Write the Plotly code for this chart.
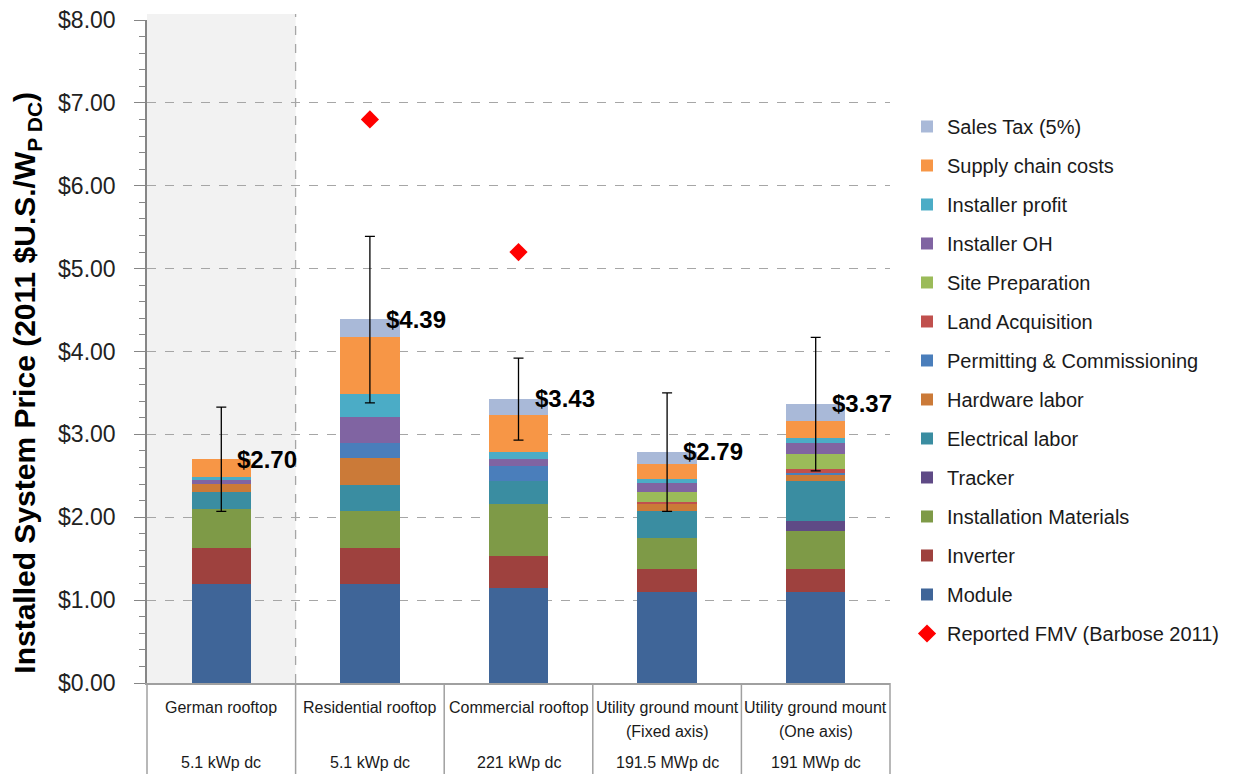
import plotly.graph_objects as go

categories = ["German rooftop", "Residential rooftop", "Commercial rooftop",
              "Utility ground mount (Fixed axis)", "Utility ground mount (One axis)"]
cat_line1 = ["German rooftop", "Residential rooftop", "Commercial rooftop",
             "Utility ground mount", "Utility ground mount"]
cat_line2 = ["", "", "", "(Fixed axis)", "(One axis)"]
capacities = ["5.1 kWp dc", "5.1 kWp dc", "221 kWp dc", "191.5 MWp dc", "191 MWp dc"]

# stacked components, bottom -> top
component_names = ["Module", "Inverter", "Installation Materials", "Tracker",
                   "Electrical labor", "Hardware labor", "Permitting & Commissioning",
                   "Land Acquisition", "Site Preparation", "Installer OH",
                   "Installer profit", "Supply chain costs", "Sales Tax (5%)"]
module = [1.20, 1.20, 1.15, 1.10, 1.10]
inverter = [0.43, 0.43, 0.38, 0.28, 0.28]
installation_materials = [0.47, 0.45, 0.63, 0.37, 0.45]
tracker = [0, 0, 0, 0, 0.13]
electrical_labor = [0.20, 0.31, 0.28, 0.33, 0.48]
hardware_labor = [0.10, 0.32, 0, 0.08, 0.08]
permitting = [0, 0.18, 0.18, 0, 0.02]
land_acquisition = [0, 0, 0, 0.03, 0.04]
site_preparation = [0, 0, 0, 0.12, 0.18]
installer_oh = [0.05, 0.32, 0.08, 0.10, 0.13]
installer_profit = [0.03, 0.28, 0.09, 0.05, 0.07]
supply_chain = [0.22, 0.68, 0.44, 0.18, 0.20]
sales_tax = [0, 0.22, 0.20, 0.15, 0.21]
component_values = [module, inverter, installation_materials, tracker, electrical_labor,
                    hardware_labor, permitting, land_acquisition, site_preparation,
                    installer_oh, installer_profit, supply_chain, sales_tax]
component_colors = ["#3F6598", "#9E413E", "#7E9A47", "#5F4A86", "#3A8DA1", "#CB7A38",
                    "#4A7EBB", "#C0504D", "#9BBB59", "#8064A2", "#4BACC6", "#F79646",
                    "#A9B9D8"]

error_low = [2.07, 3.38, 2.93, 2.07, 2.56]
error_high = [3.33, 5.39, 3.92, 3.50, 4.17]

fmv_categories = ["Residential rooftop", "Commercial rooftop"]
fmv_values = [6.80, 5.20]

totals = [round(sum(v[i] for v in component_values), 2) for i in range(len(categories))]

fig = go.Figure()
n = len(component_names)
for k, (name, vals, col) in enumerate(zip(component_names, component_values, component_colors)):
    fig.add_trace(go.Bar(
        name=name, x=categories, y=vals, marker=dict(color=col, line=dict(width=0)),
        legendgroup=name, legendrank=n - k, hoverinfo="name+y"))

fig.add_trace(go.Scatter(
    x=categories, y=totals, mode="markers",
    marker=dict(size=1, color="rgba(0,0,0,0)"),
    error_y=dict(type="data", symmetric=False,
                 array=[h - t for h, t in zip(error_high, totals)],
                 arrayminus=[t - l for t, l in zip(totals, error_low)],
                 color="black", thickness=1.3, width=5),
    showlegend=False, hoverinfo="skip"))

fig.add_trace(go.Scatter(
    name="Reported FMV (Barbose 2011)", x=fmv_categories, y=fmv_values, mode="markers",
    marker=dict(symbol="diamond", size=14, color="#FF0000"),
    legendgroup="fmv", legendrank=n + 1))

base_font = "Liberation Sans, Arial, sans-serif"
annotations = []
for c, t in zip(categories, totals):
    annotations.append(dict(x=c, y=t, xref="x", yref="y", text="<b>$%.2f</b>" % t,
                            showarrow=False, xanchor="left", yanchor="middle", xshift=14,
                            font=dict(family=base_font, size=24, color="black")))
for c, l1, l2, cap in zip(categories, cat_line1, cat_line2, capacities):
    annotations.append(dict(x=c, y=-0.0377, xref="x", yref="paper", text=l1, showarrow=False,
                            xanchor="center", yanchor="middle",
                            font=dict(family=base_font, size=16, color="#1a1a1a")))
    if l2:
        annotations.append(dict(x=c, y=-0.0739, xref="x", yref="paper", text=l2, showarrow=False,
                                xanchor="center", yanchor="middle",
                                font=dict(family=base_font, size=16, color="#1a1a1a")))
    annotations.append(dict(x=c, y=-0.1192, xref="x", yref="paper", text=cap, showarrow=False,
                            xanchor="center", yanchor="middle",
                            font=dict(family=base_font, size=16, color="#1a1a1a")))
annotations.append(dict(x=-0.1615, y=0.453, xref="paper", yref="paper",
                        text="<b>Installed System Price (2011 $U.S./W<sub>P DC</sub>)</b>",
                        textangle=-90, showarrow=False, xanchor="center", yanchor="middle",
                        font=dict(family=base_font, size=30, color="black")))

shapes = [
    dict(type="rect", xref="paper", yref="paper", x0=0, x1=0.2, y0=0, y1=1.009,
         fillcolor="#F2F2F2", line=dict(width=0), layer="below"),
    dict(type="line", xref="paper", yref="paper", x0=0.2, x1=0.2, y0=0, y1=1.009,
         line=dict(color="#A6A6A6", width=1.3, dash="dash"), layer="below"),
]
for k in range(6):
    shapes.append(dict(type="line", xref="paper", yref="paper", x0=k / 5, x1=k / 5,
                       y0=0, y1=-0.15, line=dict(color="#A0A0A0", width=1.5)))

fig.update_layout(
    width=1227, height=766, autosize=False,
    margin=dict(l=139, r=345, t=12, b=91, pad=0, autoexpand=False),
    paper_bgcolor="white", plot_bgcolor="white",
    barmode="stack", bargap=0.6,
    font=dict(family=base_font, color="#1a1a1a"),
    xaxis=dict(type="category", range=[-0.5, 4.5], showticklabels=False, showgrid=False,
               showline=True, linecolor="#A0A0A0", linewidth=1.5, ticks="", zeroline=False,
               fixedrange=True, automargin=False),
    yaxis=dict(range=[0, 8], dtick=1, tickprefix="$", tickformat=".2f",
               tickfont=dict(family=base_font, size=23, color="#222222"),
               ticks="outside", ticklen=11, tickcolor="#868686", ticklabelstandoff=14,
               ticklabeloverflow="allow",
               showline=True, linecolor="#868686", linewidth=1.5,
               showgrid=True, gridcolor="#A6A6A6", griddash="dash", gridwidth=1,
               zeroline=False, fixedrange=True, automargin=False,
               minor=dict(dtick=0.2, ticks="outside", ticklen=6, tickcolor="#868686",
                          showgrid=False)),
    legend=dict(x=1.0229, y=0.8688, xanchor="left", yanchor="top", traceorder="grouped",
                tracegroupgap=10, font=dict(family=base_font, size=20, color="#1a1a1a"),
                bgcolor="rgba(0,0,0,0)"),
    annotations=annotations, shapes=shapes, showlegend=True,
)

fig.write_html("out.html")
